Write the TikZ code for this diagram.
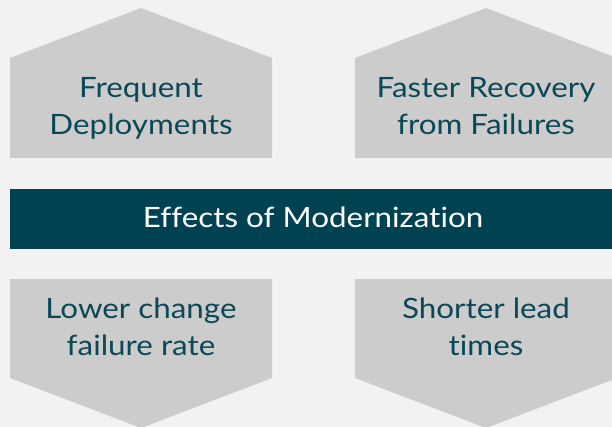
\documentclass[tikz,border=0pt]{standalone}
\usepackage{fontspec}
\setmainfont[Ligatures=NoCommon, FakeStretch=1.12]{Lato}
\definecolor{bg}{HTML}{F2F2F2}
\definecolor{shapegray}{HTML}{CCCCCC}
\definecolor{teal}{HTML}{004252}
\definecolor{tealtext}{HTML}{0A4858}
\tikzset{
  card/.style={fill=shapegray},
  cardtext/.style={text=tealtext, align=center, font=\fontsize{28}{37}\selectfont, inner sep=0pt},
  bartext/.style={text=white, font=\fontsize{28}{37}\selectfont, inner sep=0pt}
}
\begin{document}
\begin{tikzpicture}[x=1pt,y=-1pt]
\useasboundingbox (0,0) rectangle (612,427);
\fill[bg] (0,0) rectangle (612,427);
\clip (0,0) rectangle (612,427);
% top cards
\fill[card] (10,158) -- (10,58) -- (141,8) -- (272,58) -- (272,158) -- cycle;
\fill[card] (355,158) -- (355,58) -- (486,8) -- (617,58) -- (617,158) -- cycle;
% bar
\fill[teal] (10,189) rectangle (612,249);
% bottom cards
\fill[card] (10,279) -- (272,279) -- (272,378) -- (141,428) -- (10,378) -- cycle;
\fill[card] (355,279) -- (617,279) -- (617,378) -- (486,428) -- (355,378) -- cycle;
% texts
\node[cardtext, anchor=base] (t1) at (141,135) {Frequent\\Deployments};
\node[cardtext, anchor=base] (t2) at (486,135) {Faster Recovery\\from Failures};
\node[bartext, anchor=base] (bar) at (313,228) {Effects of Modernization};
\node[cardtext, anchor=base] (b1) at (141,355) {Lower change\\failure rate};
\node[cardtext, anchor=base] (b2) at (486,355) {Shorter lead\\times};
\end{tikzpicture}
\end{document}
